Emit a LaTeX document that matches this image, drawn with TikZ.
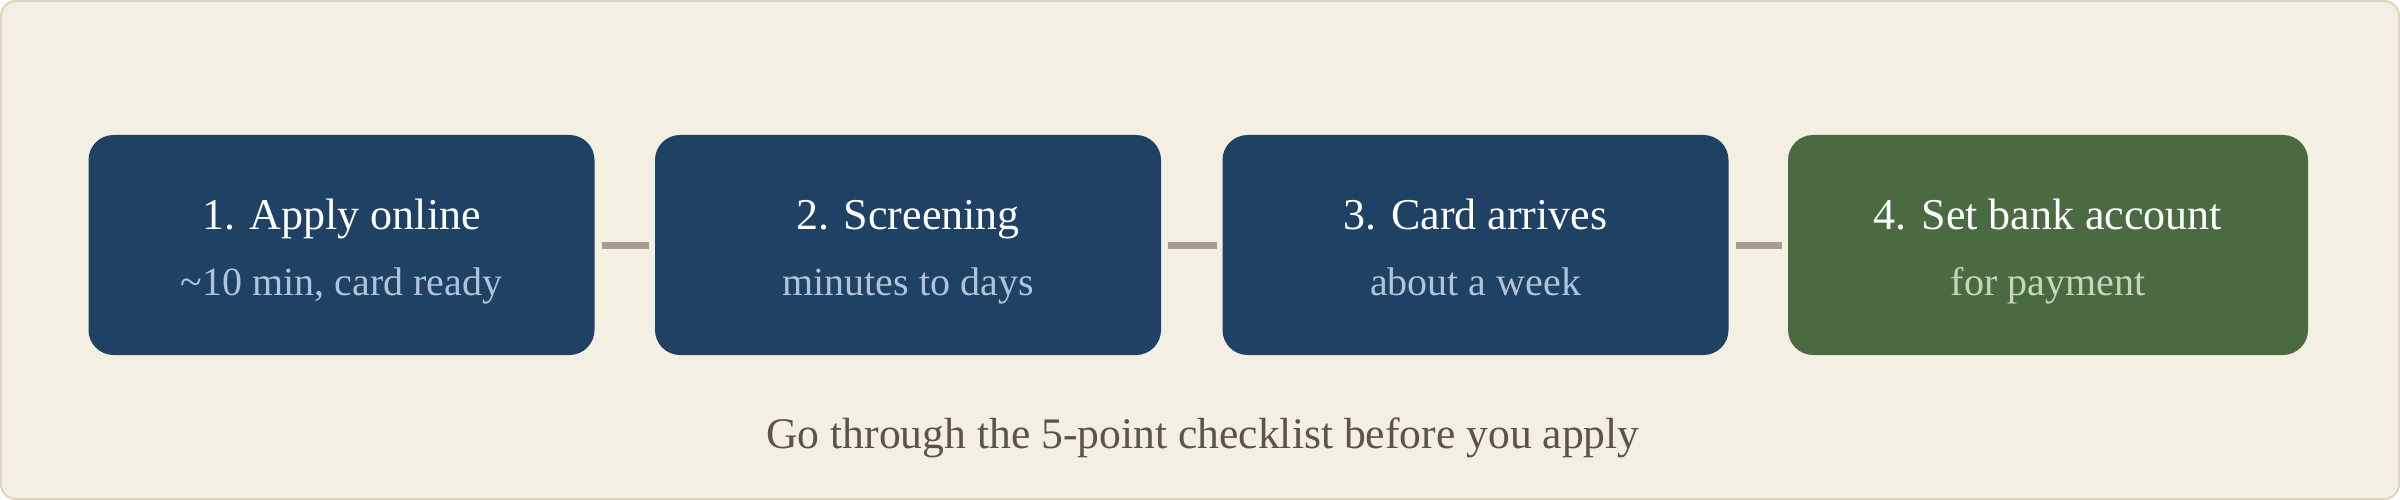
\documentclass[tikz,border=0pt]{standalone}
\usepackage{fontspec}
\setmainfont{Liberation Serif}
\definecolor{bgc}{HTML}{F3EFE3}
\definecolor{framec}{HTML}{DDD5BF}
\definecolor{navyc}{HTML}{1E4164}
\definecolor{greenc}{HTML}{4A6B42}
\definecolor{connc}{HTML}{A89C8C}
\definecolor{subblue}{HTML}{AFC3D9}
\definecolor{subgreen}{HTML}{C5D6BD}
\definecolor{notec}{HTML}{5C5447}
\begin{document}
\begin{tikzpicture}[x=1pt,y=-1pt,
  stepbox/.style={rectangle, rounded corners=25pt, inner sep=0pt, outer sep=0pt, minimum height=220pt},
  bluebox/.style={stepbox, fill=navyc, minimum width=506pt},
  greenbox/.style={stepbox, fill=greenc, minimum width=520pt},
  steptitle/.style={anchor=base, inner sep=0pt, text=white, font=\fontsize{44}{50}\selectfont},
  stepsub/.style={anchor=base, inner sep=0pt, font=\fontsize{40}{46}\selectfont},
  conn/.style={draw=connc, line width=7pt, shorten <=7pt, shorten >=6pt},
  note/.style={anchor=base, inner sep=0pt, text=notec, font=\fontsize{43.6}{50}\selectfont}
]
\useasboundingbox (0,0) rectangle (2400,500);
\draw[fill=bgc, draw=framec, line width=2pt, rounded corners=15pt] (1,1) rectangle (2399,499);

\node[bluebox] (b1) at (341.5,245) {};
\node[bluebox] (b2) at (908,245) {};
\node[bluebox] (b3) at (1475.5,245) {};
\node[greenbox] (b4) at (2048,245) {};

\node[steptitle] (t1) at (341.5,229) {1. Apply online};
\node[stepsub, text=subblue] (s1) at (341.5,295) {\textasciitilde10 min, card ready};
\node[steptitle] (t2) at (908,229) {2. Screening};
\node[stepsub, text=subblue] (s2) at (908,295) {minutes to days};
\node[steptitle] (t3) at (1475.5,229) {3. Card arrives};
\node[stepsub, text=subblue] (s3) at (1475.5,295) {about a week};
\node[steptitle] (t4) at (2048,229) {4. Set bank account};
\node[stepsub, text=subgreen] (s4) at (2048,295) {for payment};

\draw[conn] (b1.east) -- (b2.west);
\draw[conn] (b2.east) -- (b3.west);
\draw[conn] (b3.east) -- (b4.west);

\node[note] (n) at (1203,448) {Go through the 5-point checklist before you apply};
\end{tikzpicture}
\end{document}
